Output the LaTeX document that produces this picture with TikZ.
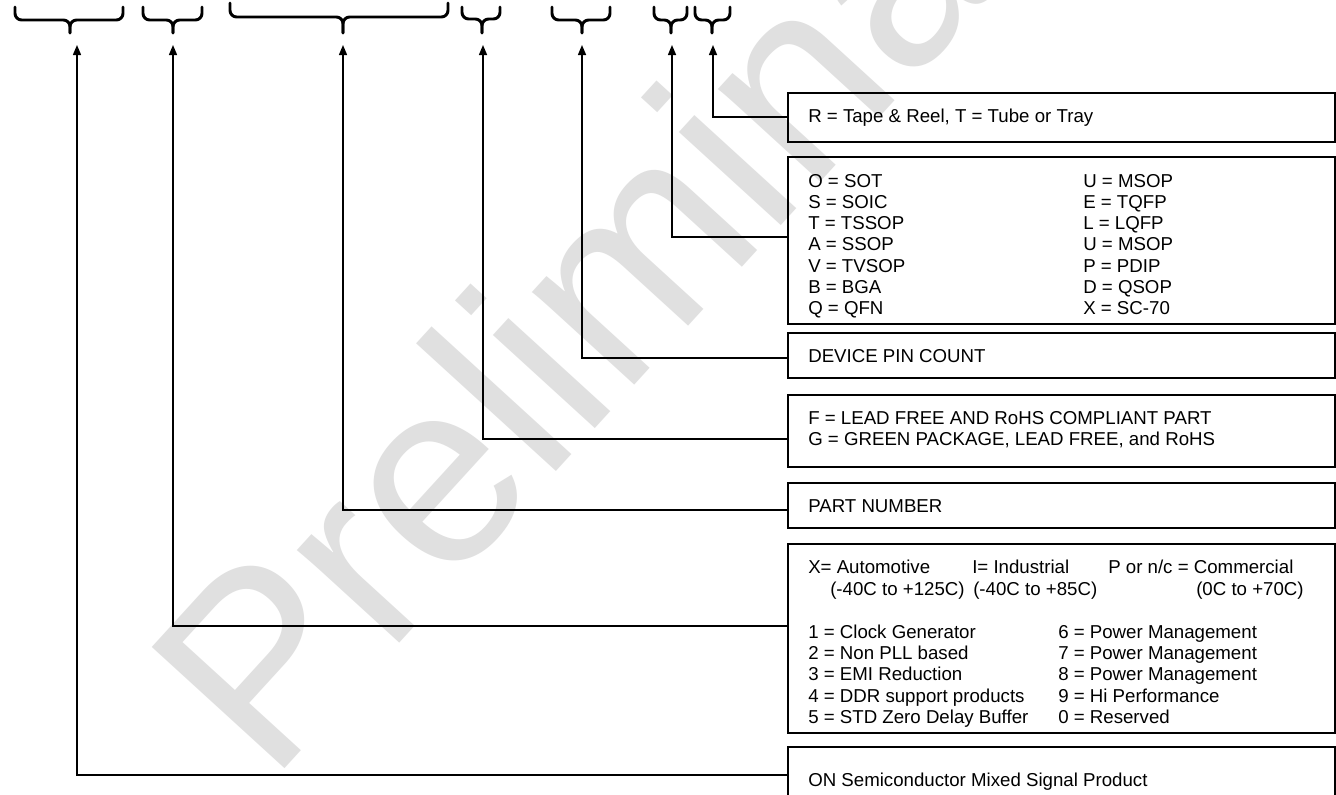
\documentclass[tikz,border=0pt]{standalone}
\usepackage{fontspec}
\setmainfont{Liberation Sans}
\usetikzlibrary{arrows.meta,fit}
\newcommand\mybrace[6]{%
  \draw[brc] (#1,#4) |- (#3,#5) -- (#3,#6);
  \draw[brc] (#2,#4) |- (#3,#5) -- (#3,#6);}
\begin{document}
\begin{tikzpicture}[x=0.75pt,y=-0.75pt,
  boxshape/.style={draw=black, line width=1.1pt, inner sep=0pt},
  txt/.style={anchor=base west, inner sep=0pt, font=\fontsize{14}{16}\selectfont},
  conn/.style={line width=1.1pt, -{Triangle[length=7.5pt,width=6pt]}},
  brc/.style={line width=2.2pt, line cap=round, rounded corners=5pt},
  wm/.style={anchor=base west, rotate=47.6, inner sep=0pt, text=black!12,
             font=\fontsize{196}{200}\selectfont}]
\fill[white] (0,0) rectangle (1336,794);
\useasboundingbox (0,0) rectangle (1336,794);

% watermark
\node[wm] (wmk) at (270,785) {Preliminary};

% braces
\mybrace{15}{123}{70}{7}{20}{33}
\mybrace{143}{202}{173}{7}{20}{33}
\mybrace{230}{448}{343}{3}{17}{33}
\mybrace{462}{500}{482}{7}{19}{33}
\mybrace{552}{610}{582}{7}{20}{33}
\mybrace{654}{687}{671}{7}{20}{33}
\mybrace{695}{730}{712}{7}{20}{33}

% boxes
\node[boxshape, fit={(788,93) (1335,142)}] (b1) {};
\node[boxshape, fit={(788,157) (1335,324)}] (b2) {};
\node[boxshape, fit={(788,333) (1335,378)}] (b3) {};
\node[boxshape, fit={(788,395) (1335,467)}] (b4) {};
\node[boxshape, fit={(788,483) (1335,528)}] (b5) {};
\node[boxshape, fit={(788,544) (1335,733)}] (b6) {};
\node[boxshape, fit={(788,747) (1335,812)}] (b7) {};

% texts
\node[txt] (t1) at (808,122) {R = Tape \& Reel, T = Tube or Tray};
\foreach \l/\r [count=\i from 0] in {O = SOT/U = MSOP, S = SOIC/E = TQFP, T = TSSOP/L = LQFP,
   A = SSOP/U = MSOP, V = TVSOP/P = PDIP, B = BGA/D = QSOP, Q = QFN/X = SC-70}{
  \node[txt] (pl\i) at (808,187+21.33*\i) {\l};
  \node[txt] (pr\i) at (1083,187+21.33*\i) {\r};
}
\node[txt] (t3) at (808,362) {DEVICE PIN COUNT};
\node[txt] (t4a) at (808,424) {F = LEAD FREE AND RoHS COMPLIANT PART};
\node[txt] (t4b) at (808,445.5) {G = GREEN PACKAGE, LEAD FREE, and RoHS};
\node[txt] (t5) at (808,512) {PART NUMBER};
\node[txt] (g1) at (808,573) {X= Automotive};
\node[txt] (g2) at (972,573) {I= Industrial};
\node[txt] (g3) at (1108,573) {P or n/c = Commercial};
\node[txt] (r1) at (830,595) {(-40C to +125C)};
\node[txt] (r2) at (973,595) {(-40C to +85C)};
\node[txt] (r3) at (1196,595) {(0C to +70C)};
\foreach \l/\r [count=\i from 0] in {1 = Clock Generator/6 = Power Management,
   2 = Non PLL based/7 = Power Management, 3 = EMI Reduction/8 = Power Management,
   4 = DDR support products/9 = Hi Performance, 5 = STD Zero Delay Buffer/0 = Reserved}{
  \node[txt] (fl\i) at (808,638+21.33*\i) {\l};
  \node[txt] (fr\i) at (1058,638+21.33*\i) {\r};
}
\node[txt] (t7) at (808,786) {ON Semiconductor Mixed Signal Product};

% connector anchors
\coordinate (c1) at (788,117);
\coordinate (c2) at (788,237);
\coordinate (c3) at (788,358);
\coordinate (c4) at (788,439);
\coordinate (c5) at (788,510);
\coordinate (c6) at (788,626);
\coordinate (c7) at (788,775);
\coordinate (p1) at (713,45);
\coordinate (p2) at (672,45);
\coordinate (p3) at (582,45);
\coordinate (p4) at (483,45);
\coordinate (p5) at (343,45);
\coordinate (p6) at (173,45);
\coordinate (p7) at (77,45);
\foreach \i in {1,...,7}{\draw[conn] (c\i) -| (p\i);}
\end{tikzpicture}
\end{document}
